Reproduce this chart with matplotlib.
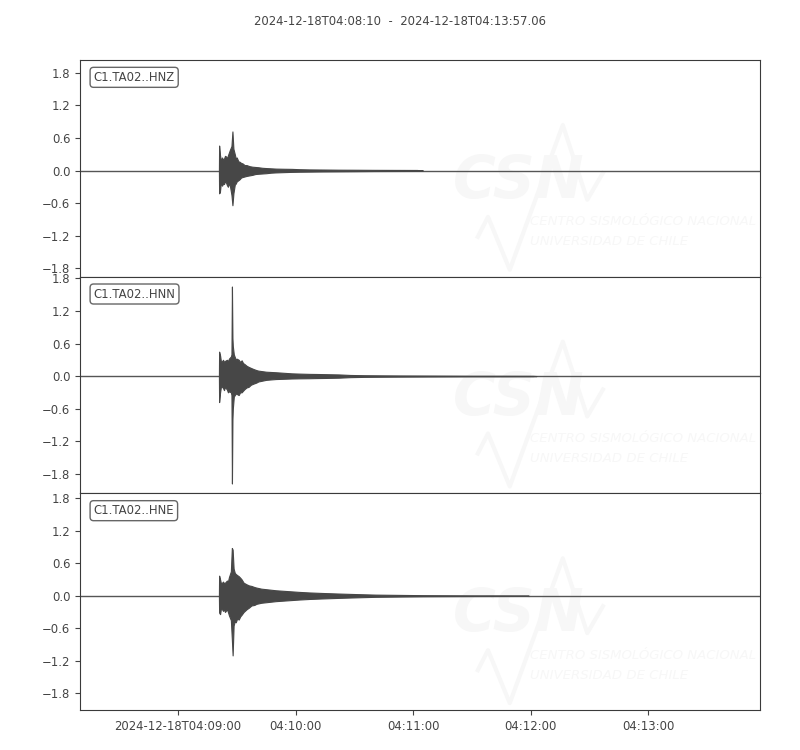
import datetime
import matplotlib
matplotlib.use("Agg")
import matplotlib.pyplot as plt
import matplotlib.dates as mdates
from matplotlib.ticker import FuncFormatter

# Trace ids and time span
trace_ids = ["C1.TA02..HNZ", "C1.TA02..HNN", "C1.TA02..HNE"]
start = datetime.datetime(2024, 12, 18, 4, 8, 10)
duration = 347.06  # seconds

# min/max envelope (seconds after start, upper, lower)
hnz_t = [70.9, 71.0, 71.4, 71.9, 72.5, 73.0, 73.5, 74.0, 74.5, 75.0, 75.5, 76.0, 76.5, 77.3, 77.8,
         78.3, 79.0, 79.5, 80.0, 80.8, 81.5, 82.2, 83.0, 84.0, 85.0, 86.5, 88.0, 89.5, 91.0, 93.0,
         95.0, 97.5, 100.0, 104.0, 108.0, 112.0, 117.0, 124.0, 132.0, 140.0, 150.0, 160.0, 172.0, 175.0]
hnz_up = [0.0, 0.46, 0.30, 0.18, 0.24, 0.20, 0.22, 0.27, 0.26, 0.22, 0.28, 0.33, 0.38, 0.45, 0.72,
          0.40, 0.30, 0.22, 0.24, 0.17, 0.16, 0.14, 0.13, 0.10, 0.10, 0.08, 0.07, 0.065, 0.06, 0.05,
          0.045, 0.04, 0.035, 0.032, 0.03, 0.024, 0.02, 0.018, 0.015, 0.014, 0.012, 0.011, 0.01, 0.0]
hnz_lo = [0.0, -0.42, -0.40, -0.22, -0.28, -0.24, -0.25, -0.20, -0.22, -0.27, -0.30, -0.24, -0.28, -0.45, -0.64,
          -0.42, -0.26, -0.24, -0.20, -0.18, -0.16, -0.13, -0.12, -0.11, -0.10, -0.09, -0.08, -0.065, -0.06, -0.055,
          -0.05, -0.04, -0.035, -0.03, -0.025, -0.022, -0.02, -0.017, -0.015, -0.013, -0.01, -0.009, -0.008, 0.0]

hnn_t = [70.9, 71.0, 71.5, 72.0, 73.0, 73.5, 74.0, 75.0, 75.5, 76.0, 77.0, 77.3, 77.55, 77.8, 78.0,
         78.5, 79.0, 79.6, 80.0, 81.0, 81.7, 82.5, 83.2, 84.0, 85.0, 86.0, 87.2, 88.5, 90.0, 91.0,
         93.0, 95.0, 97.5, 100.0, 104.0, 108.0, 112.0, 117.0, 121.0, 125.0, 132.0, 138.0, 145.0,
         155.0, 165.0, 180.0, 200.0, 215.0, 231.0, 233.0]
hnn_up = [0.0, 0.45, 0.38, 0.25, 0.30, 0.26, 0.28, 0.30, 0.27, 0.32, 0.36, 0.40, 1.65, 0.70, 0.55,
          0.40, 0.35, 0.30, 0.32, 0.30, 0.26, 0.29, 0.24, 0.22, 0.19, 0.17, 0.15, 0.13, 0.11, 0.10,
          0.09, 0.08, 0.075, 0.07, 0.06, 0.05, 0.045, 0.04, 0.038, 0.035, 0.03, 0.02, 0.015,
          0.012, 0.01, 0.008, 0.005, 0.005, 0.004, 0.0]
hnn_lo = [0.0, -0.48, -0.30, -0.18, -0.22, -0.26, -0.20, -0.25, -0.30, -0.28, -0.30, -0.35, -1.98, -0.80, -0.60,
          -0.38, -0.35, -0.32, -0.33, -0.35, -0.30, -0.30, -0.27, -0.24, -0.21, -0.20, -0.16, -0.14, -0.12, -0.10,
          -0.085, -0.07, -0.062, -0.055, -0.05, -0.045, -0.042, -0.04, -0.037, -0.035, -0.03, -0.02, -0.015,
          -0.012, -0.01, -0.008, -0.005, -0.005, -0.004, 0.0]

hne_t = [70.9, 71.0, 71.5, 72.0, 73.0, 73.5, 74.0, 75.0, 75.5, 76.0, 77.0, 77.5, 77.9, 78.4, 79.0,
         79.5, 80.2, 81.0, 81.8, 82.5, 83.5, 85.0, 86.2, 87.5, 89.0, 90.0, 92.5, 95.0, 97.5, 100.0,
         104.0, 108.0, 112.0, 117.0, 124.0, 132.0, 141.0, 151.0, 163.0, 175.0, 200.0, 227.0, 229.0]
hne_up = [0.0, 0.37, 0.30, 0.22, 0.26, 0.23, 0.24, 0.28, 0.26, 0.34, 0.45, 0.88, 0.85, 0.50, 0.42,
          0.40, 0.38, 0.36, 0.33, 0.30, 0.24, 0.21, 0.19, 0.18, 0.16, 0.15, 0.13, 0.12, 0.11, 0.10,
          0.09, 0.08, 0.07, 0.06, 0.05, 0.04, 0.03, 0.02, 0.015, 0.01, 0.006, 0.004, 0.0]
hne_lo = [0.0, -0.31, -0.34, -0.22, -0.28, -0.25, -0.30, -0.25, -0.30, -0.36, -0.45, -0.80, -1.10, -0.55, -0.47,
          -0.49, -0.42, -0.44, -0.38, -0.35, -0.30, -0.25, -0.22, -0.18, -0.17, -0.15, -0.13, -0.12, -0.11, -0.10,
          -0.09, -0.08, -0.07, -0.06, -0.05, -0.04, -0.03, -0.02, -0.015, -0.01, -0.006, -0.004, 0.0]

traces = [(hnz_t, hnz_up, hnz_lo), (hnn_t, hnn_up, hnn_lo), (hne_t, hne_up, hne_lo)]
ytick_vals = [-1.8, -1.2, -0.6, 0.0, 0.6, 1.2, 1.8]

text_c = "#444444"
trace_c = "#474747"
wm_c = "#f7f7f7"

plt.rcParams["text.color"] = text_c
plt.rcParams["xtick.color"] = text_c
plt.rcParams["ytick.color"] = text_c
plt.rcParams["axes.edgecolor"] = "#3a3a3a"


def to_num(secs):
    return mdates.date2num([start + datetime.timedelta(seconds=float(s)) for s in secs])


fig, axes = plt.subplots(3, 1, figsize=(8, 7.5), dpi=100, sharex=True)
fig.subplots_adjust(left=0.10, right=0.95, top=0.92, bottom=0.0533, hspace=0)

t0, t1 = to_num([0, duration])
half = max((max(u) - min(l)) / 2 for _, u, l in traces) * 1.1

for ax, tid, (t, up, lo) in zip(axes, trace_ids, traces):
    # watermark (CSN logo, very faint)
    ax.text(0.645, 0.44, "CSN", transform=ax.transAxes, fontsize=42, fontweight="bold",
            fontstyle="italic", color=wm_c, ha="center", va="center", zorder=0)
    ax.plot([0.585, 0.600, 0.632, 0.710, 0.746, 0.769], [0.184, 0.276, 0.032, 0.700, 0.355, 0.479],
            transform=ax.transAxes, color=wm_c, lw=3, zorder=0)
    ax.text(0.662, 0.253, "CENTRO SISMOLÓGICO NACIONAL", transform=ax.transAxes, fontsize=9.5,
            fontstyle="italic", color=wm_c, ha="left", va="center", zorder=0)
    ax.text(0.662, 0.161, "UNIVERSIDAD DE CHILE", transform=ax.transAxes, fontsize=9.5,
            fontstyle="italic", color=wm_c, ha="left", va="center", zorder=0)

    ax.plot([t0, t1], [0, 0], color="#555555", lw=1.0, zorder=2)
    tn = to_num(t)
    ax.fill_between(tn, lo, up, color=trace_c, lw=0.8, edgecolor=trace_c, zorder=3)

    center = (max(up) + min(lo)) / 2
    ax.set_ylim(center - half, center + half)
    ax.set_yticks(ytick_vals)
    ax.set_yticklabels([f"{v:.1f}".replace("-", "\u2212") for v in ytick_vals])
    ax.tick_params(axis="y", labelsize=8.4, direction="out", length=3.5)
    ax.text(0.02, 0.95, tid, transform=ax.transAxes, fontsize=8.4, ha="left", va="top",
            bbox=dict(boxstyle="round", fc="w", ec="#555555", alpha=0.9), zorder=5)

axes[-1].set_xlim(t0, t1)
axes[-1].xaxis.set_major_locator(mdates.MinuteLocator())


def fmt(x, pos):
    d = mdates.num2date(x)
    if pos == 0:
        return d.strftime("%Y-%m-%dT%H:%M:%S")
    return d.strftime("%H:%M:%S")


axes[-1].xaxis.set_major_formatter(FuncFormatter(fmt))
for ax in axes[:-1]:
    ax.tick_params(axis="x", bottom=False, labelbottom=False)
axes[-1].tick_params(axis="x", labelsize=8.4, length=3.5)

fig.suptitle("2024-12-18T04:08:10  -  2024-12-18T04:13:57.06", y=0.98, fontsize=8.4, color=text_c)

fig.savefig("out.png", dpi=100)
